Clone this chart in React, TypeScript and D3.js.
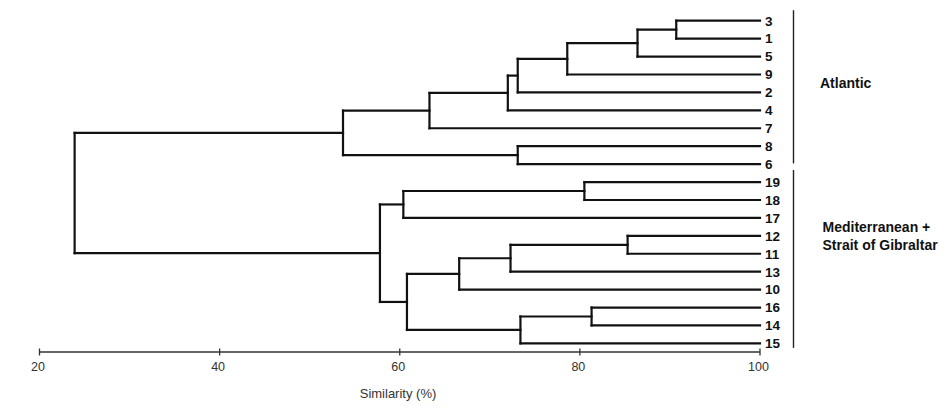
import React from 'react';
import * as d3 from 'd3';

// Leaves, top to bottom
const leaves = ['3', '1', '5', '9', '2', '4', '7', '8', '6', '19', '18', '17', '12', '11', '13', '10', '16', '14', '15'];

// Linkage: ids 0..18 are leaves, id 19 is the first merge, 20 the second, ...
const mergePairs: [number, number][] = [
  [0, 1], [19, 2], [20, 3], [21, 4], [22, 5], [23, 6], [7, 8], [24, 25],
  [9, 10], [27, 11], [12, 13], [29, 14], [30, 15], [16, 17], [32, 18],
  [31, 33], [28, 34], [26, 35],
];
const mergeSimilarity = [
  90.7, 86.4, 78.6, 73.1, 72.0, 63.3, 73.1, 53.7,
  80.5, 60.4, 85.3, 72.3, 66.6, 81.3, 73.4,
  60.8, 57.8, 23.9,
];

const xTicks = [20, 40, 60, 80, 100];

const groupNames = [['Atlantic'], ['Mediterranean +', 'Strait of Gibraltar']];
const groupLeaves = [['3', '6'], ['19', '15']];

type Node = { id: number; name?: string; sim: number; children?: Node[] };

const buildTree = (): Node => {
  const nodes: Node[] = leaves.map((name, i) => ({ id: i, name, sim: 100 }));
  mergePairs.forEach(([a, b], i) => {
    nodes.push({ id: leaves.length + i, sim: mergeSimilarity[i], children: [nodes[a], nodes[b]] });
  });
  return nodes[nodes.length - 1];
};

export default function App() {
  const width = 949;
  const height = 410;

  const x = d3.scaleLinear().domain([20, 100]).range([39.5, 760]);
  const y = d3.scalePoint<string>().domain(leaves).range([20.7, 343.4]);

  const root = d3.hierarchy<Node>(buildTree());
  // y of each node: leaves from the point scale, internal nodes at the middle of their children
  root.eachAfter((n: any) => {
    n.py = n.children ? d3.mean(n.children, (c: any) => c.py) : y(n.data.name);
    n.px = x(n.data.sim);
  });

  const paths: string[] = [];
  root.each((n: any) => {
    if (!n.children) return;
    const ys = n.children.map((c: any) => c.py);
    // vertical joining the children
    paths.push(`M${n.px},${d3.min(ys)}V${d3.max(ys)}`);
    n.children.forEach((c: any) => {
      paths.push(`M${n.px},${c.py}H${c.px}`);
    });
  });

  const axisY = 352;
  const bracketX = 793.5;
  const bracketPad = [[-10.5, -0.7], [-12, 4.5]];

  return (
    <svg
      width={width}
      height={height}
      style={{ position: 'absolute', left: 0, top: 0, background: '#fff' }}
      fontFamily="'Liberation Sans', Arial, sans-serif"
    >
      <g fill="none" stroke="#111" strokeWidth={2.2} strokeLinecap="square">
        {paths.map((d, i) => (
          <path key={i} d={d} />
        ))}
      </g>

      {leaves.map(l => (
        <text key={l} x={765} y={y(l)} dy="0.36em" fontSize={13.5} fontWeight="bold" fill="#111">
          {l}
        </text>
      ))}

      {/* x axis */}
      <g stroke="#333" strokeWidth={1.3}>
        <line x1={x(20)} x2={x(100)} y1={axisY} y2={axisY} />
        {xTicks.map(t => (
          <line key={t} x1={x(t)} x2={x(t)} y1={axisY - 3.5} y2={axisY + 3.5} />
        ))}
      </g>
      {xTicks.map(t => (
        <text key={t} x={x(t) - 1.5} y={367} dy="0.35em" textAnchor="middle" fontSize={12.5} fill="#333">
          {t}
        </text>
      ))}
      <text x={398} y={393} dy="0.35em" textAnchor="middle" fontSize={13} fill="#333">
        Similarity (%)
      </text>

      {/* group brackets */}
      {groupLeaves.map(([a, b], i) => (
        <line
          key={i}
          x1={bracketX}
          x2={bracketX}
          y1={(y(a) as number) + bracketPad[i][0]}
          y2={(y(b) as number) + bracketPad[i][1]}
          stroke="#222"
          strokeWidth={1.4}
        />
      ))}
      <text x={820} y={83.3} dy="0.35em" fontSize={14} fontWeight="bold" fill="#111">
        {groupNames[0][0]}
      </text>
      {groupNames[1].map((s, i) => (
        <text key={s} x={822.5} y={227 + i * 18} dy="0.35em" fontSize={14} fontWeight="bold" fill="#111">
          {s}
        </text>
      ))}
    </svg>
  );
}
